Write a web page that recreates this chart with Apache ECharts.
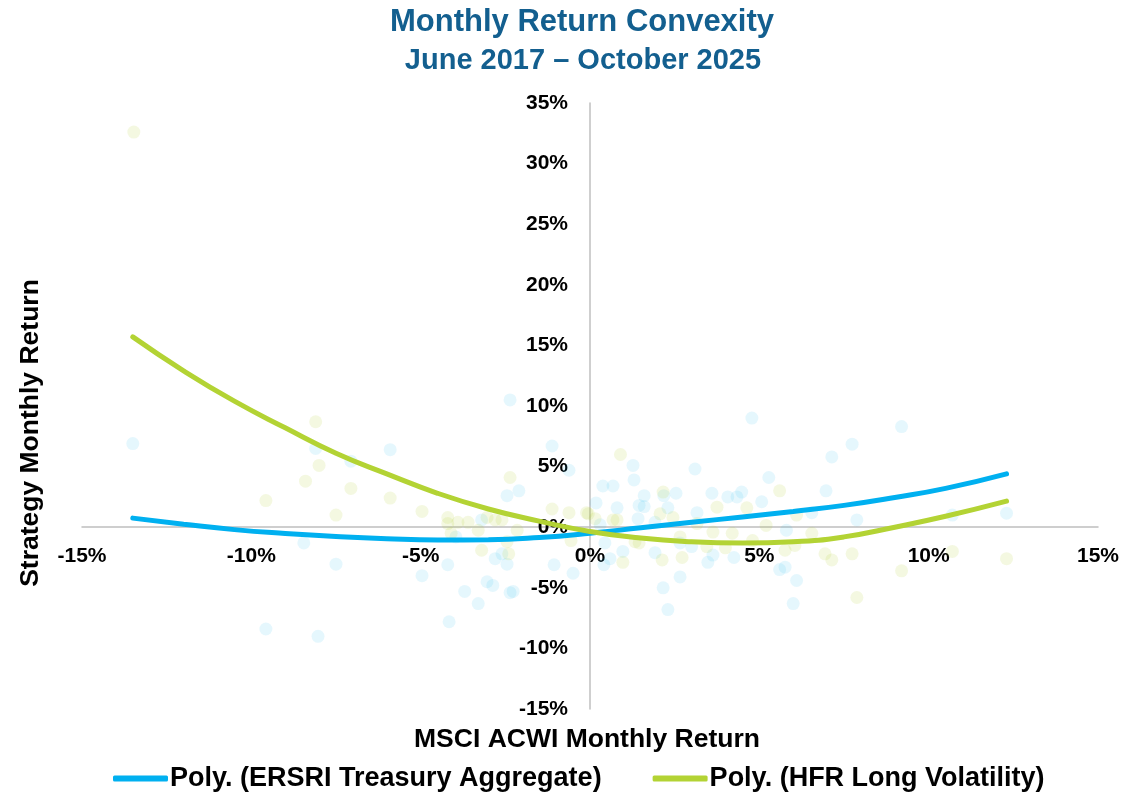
<!DOCTYPE html>
<html>
<head>
<meta charset="utf-8">
<title>Monthly Return Convexity</title>
<script src="https://cdn.jsdelivr.net/npm/echarts@6/dist/echarts.min.js"></script>
<style>
  html, body { margin: 0; padding: 0; background: #fff; }
  #chart { width: 1122px; height: 797px; }
</style>
</head>
<body>
<div id="chart"></div>
<script>
// scatter: MSCI ACWI monthly return (x) vs strategy monthly return (y), in %
var ersriX = [-13.5, -9.57, -8.03, -8.1, -8.45, -7.5, -7.06, -5.9, -4.96, -4.2, -3.96, -4.16, -3.7, -3.3,
  -3.04, -2.87, -2.8, -2.6, -2.45, -2.36, -2.27, -2.45, -2.1, -2.36, -1.12, -0.62, -1.06, -0.5, -3.2,
  4.78, 7.14, 6.97, 1.27, 1.3, 0.38, 0.68, 0.18, 3.1, 5.28, 1.6, 1.45, 1.6, 0.8, 2.54, 2.18, 3.6, 4.07,
  4.34, 4.48, 5.07, 3.16, 2.3, 1.42, 1.92, 0.3, 0.44, 0.97, 0.59, 0.41, 1.92, 2.66, 3.0, 3.48, 3.63,
  2.66, 2.16, 2.3, 4.25, 5.6, 5.76, 6.1, 6.0, 5.8, 6.55, 9.2, 7.74, 7.88, 10.7, 12.3];
var ersriY = [6.9, -8.4, -9.0, 6.5, -1.3, -3.05, 5.45, 6.4, -4.0, -3.1, -0.8, -7.8, -5.3, -6.3,
  -4.5, -4.8, -2.6, -2.2, -3.05, -5.4, -5.3, 2.6, 3.0, 10.5, 6.7, 4.7, -3.1, -3.8, 0.6,
  9.0, 5.8, 3.0, 5.1, 3.9, 3.4, 3.4, 2.0, 4.8, 4.1, 2.6, 1.8, 1.7, 1.6, 2.8, 2.6, 2.8, 2.5,
  2.5, 2.9, 2.1, 1.2, 1.6, 0.7, 0.4, 0.2, -1.3, -2.0, -2.6, -3.1, -2.1, -1.3, -1.6, -2.9, -2.3,
  -4.1, -5.0, -6.8, -2.5, -3.5, -3.3, -4.4, -6.3, -0.25, 1.2, 8.3, 6.85, 0.6, 1.0, 1.15];

var hfrX = [-13.47, -8.1, -8.0, -8.4, -9.57, -7.5, -7.06, -5.9, -4.96, -4.2, -4.2, -3.9, -3.6, -3.3,
  -3.04, -2.8, -2.6, -2.45, -3.2, -2.4, -2.36, -2.15, -1.12, -0.62, -0.56, -0.1, -4.1,
  0.9, -0.05, 0.15, 0.68, 0.8, 0.97, 1.33, 1.45, 2.16, 2.07, 2.45, 2.13, 2.72, 3.16, 3.63, 3.75,
  4.63, 4.2, 4.0, 5.6, 6.1, 5.2, 5.76, 6.05, 6.55, 6.94, 7.14, 2.66, 3.45, 4.8,
  7.74, 9.2, 7.88, 10.7, 12.3];
var hfrY = [32.6, 8.7, 5.1, 3.8, 2.2, 1.0, 3.2, 2.4, 1.3, 0.8, 0.3, 0.4, 0.4, -0.25,
  0.8, 0.6, 0.6, -1.2, -1.9, -2.2, 4.1, -0.25, 1.5, 1.2, -1.1, 1.2, -0.5,
  6.0, 1.1, 0.7, 0.6, 0.6, -2.9, -1.2, -1.3, 2.9, 1.1, 0.8, -2.7, -2.5, 0.3, -0.4, 1.65,
  1.6, -0.5, -1.7, 3.0, 1.0, 0.15, -1.9, -1.5, -0.5, -2.2, -2.7, -0.8, -1.6, -1.1,
  -2.2, -3.6, -5.8, -2.0, -2.6];

// polynomial trend lines
var trendX = [-13.5, -12, -10.5, -9, -7.5, -6, -4.5, -3, -1.5, 0, 1.5, 3, 4.5, 6, 7.5, 9, 10.5, 12.3];
var ersriTrendY = [0.75, 0.25, -0.2, -0.52, -0.77, -0.95, -1.05, -1.03, -0.85, -0.5, -0.05, 0.4, 0.85, 1.3, 1.8, 2.45, 3.2, 4.4];
var hfrTrendY = [15.7, 12.9, 10.4, 8.2, 6.1, 4.4, 2.8, 1.5, 0.5, -0.35, -0.9, -1.2, -1.3, -1.2, -0.8, 0.0, 0.9, 2.15];

function pairs(xs, ys) {
  return xs.map(function (x, i) { return [x, ys[i]]; });
}

var BLUE = '#00B0F0';
var GREEN = '#B3D334';
var TITLE = '#135F8F';
var FONT = '"Liberation Sans", Arial, sans-serif';

var myChart = echarts.init(document.getElementById('chart'));

var option = {
  animation: false,
  grid: { left: 82, right: 24, top: 103, bottom: 88 },
  legend: {
    bottom: 0,
    left: 108,
    itemGap: 51,
    itemWidth: 55,
    itemHeight: 6,
    icon: 'roundRect',
    data: ['Poly. (ERSRI Treasury Aggregate)', 'Poly. (HFR Long Volatility)'],
    textStyle: { color: '#000', fontSize: 27, fontWeight: 'bold', fontFamily: FONT, padding: [0, 0, 0, -3] }
  },
  // the axes cross at zero: shift them there with offset
  xAxis: {
    type: 'value',
    min: -15, max: 15, interval: 5,
    offset: -182,
    axisLine: { onZero: false, lineStyle: { color: '#BFBFBF', width: 1.5 } },
    axisTick: { show: false },
    splitLine: { show: false },
    axisLabel: {
      formatter: '{value}%', margin: 19,
      color: '#000', fontSize: 21, fontWeight: 'bold', fontFamily: FONT
    }
  },
  yAxis: {
    type: 'value',
    min: -15, max: 35, interval: 5,
    offset: -508,
    axisLine: { onZero: false, lineStyle: { color: '#BFBFBF', width: 1.5 } },
    axisTick: { show: false },
    splitLine: { show: false },
    axisLabel: {
      formatter: '{value}%', margin: 22,
      color: '#000', fontSize: 21, fontWeight: 'bold', fontFamily: FONT
    }
  },
  graphic: [
    {
      type: 'text', x: 582, y: 22,
      style: {
        text: 'Monthly Return Convexity', fill: TITLE, font: 'bold 31px ' + FONT,
        align: 'center', verticalAlign: 'middle'
      }
    },
    {
      type: 'text', x: 583, y: 61,
      style: {
        text: 'June 2017 \u2013 October 2025', fill: TITLE, font: 'bold 29px ' + FONT,
        align: 'center', verticalAlign: 'middle'
      }
    },
    {
      type: 'text', x: 587, y: 740,
      style: {
        text: 'MSCI ACWI Monthly Return', fill: '#000', font: 'bold 26.5px ' + FONT,
        align: 'center', verticalAlign: 'middle'
      }
    },
    {
      type: 'text', x: 31, y: 433, rotation: Math.PI / 2,
      style: {
        text: 'Strategy Monthly Return', fill: '#000', font: 'bold 26.5px ' + FONT,
        align: 'center', verticalAlign: 'middle'
      }
    }
  ],
  series: [
    {
      name: 'ERSRI Treasury Aggregate',
      type: 'scatter',
      symbolSize: 13,
      itemStyle: { color: BLUE, opacity: 0.1 },
      data: pairs(ersriX, ersriY),
      z: 2
    },
    {
      name: 'HFR Long Volatility',
      type: 'scatter',
      symbolSize: 13,
      itemStyle: { color: GREEN, opacity: 0.15 },
      data: pairs(hfrX, hfrY),
      z: 2
    },
    {
      name: 'Poly. (ERSRI Treasury Aggregate)',
      type: 'line',
      smooth: true,
      showSymbol: false,
      lineStyle: { color: BLUE, width: 5, cap: 'round' },
      itemStyle: { color: BLUE },
      data: pairs(trendX, ersriTrendY),
      z: 5
    },
    {
      name: 'Poly. (HFR Long Volatility)',
      type: 'line',
      smooth: true,
      showSymbol: false,
      lineStyle: { color: GREEN, width: 5, cap: 'round' },
      itemStyle: { color: GREEN },
      data: pairs(trendX, hfrTrendY),
      z: 5
    }
  ]
};

myChart.setOption(option);
</script>
</body>
</html>
